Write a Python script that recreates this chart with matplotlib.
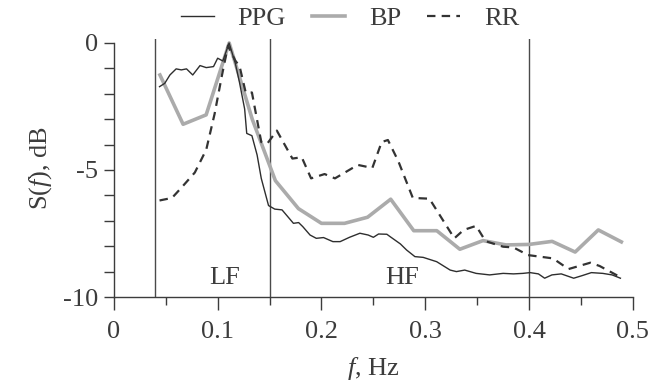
import matplotlib as mpl

mpl.use("Agg")
import matplotlib.pyplot as plt
from matplotlib.ticker import FixedLocator, MultipleLocator, FuncFormatter

mpl.rcParams.update(
    {
        "font.family": ["Liberation Serif", "DejaVu Serif"],
        "mathtext.fontset": "custom",
        "mathtext.it": "Liberation Serif:italic",
        "mathtext.rm": "Liberation Serif",
        "axes.unicode_minus": False,
        "text.color": "#3c3c3c",
        "axes.labelcolor": "#3c3c3c",
        "xtick.color": "#3c3c3c",
        "ytick.color": "#3c3c3c",
        "axes.edgecolor": "#3c3c3c",
    }
)

# power spectra, dB relative to peak
ppg_f = [0.044, 0.049, 0.054, 0.060, 0.065, 0.070, 0.076, 0.083, 0.089, 0.096,
         0.100, 0.105, 0.111, 0.117, 0.121, 0.126, 0.128, 0.133, 0.138, 0.142,
         0.149, 0.155, 0.162, 0.173, 0.178, 0.182, 0.189, 0.195, 0.202, 0.211,
         0.218, 0.227, 0.237, 0.245, 0.250, 0.255, 0.263, 0.266, 0.276, 0.282,
         0.290, 0.298, 0.311, 0.324, 0.330, 0.338, 0.349, 0.362, 0.375, 0.385,
         0.394, 0.401, 0.409, 0.415, 0.422, 0.431, 0.443, 0.451, 0.460, 0.471,
         0.480, 0.488]
ppg_db = [-1.72, -1.59, -1.26, -1.02, -1.06, -1.02, -1.26, -0.89, -0.97, -0.93,
          -0.60, -0.71, 0.0, -0.80, -1.55, -2.60, -3.56, -3.65, -4.41, -5.33,
          -6.40, -6.54, -6.57, -7.10, -7.07, -7.23, -7.56, -7.69, -7.66, -7.82,
          -7.82, -7.65, -7.49, -7.56, -7.65, -7.52, -7.53, -7.62, -7.91, -8.15,
          -8.41, -8.44, -8.61, -8.94, -9.00, -8.94, -9.07, -9.13, -9.07, -9.09,
          -9.07, -9.04, -9.09, -9.26, -9.13, -9.09, -9.26, -9.16, -9.04, -9.07,
          -9.13, -9.26]

bp_f = [0.0444, 0.0667, 0.0889, 0.1111, 0.1333, 0.1556, 0.1778, 0.2000, 0.2222,
        0.2444, 0.2667, 0.2889, 0.3111, 0.3333, 0.3556, 0.3778, 0.4000, 0.4222,
        0.4444, 0.4667, 0.4889]
bp_db = [-1.26, -3.20, -2.83, 0.0, -3.0, -5.42, -6.52, -7.10, -7.10,
         -6.86, -6.15, -7.39, -7.39, -8.12, -7.78, -7.95, -7.93, -7.81,
         -8.23, -7.36, -7.83]

rr_f = [0.044, 0.056, 0.065, 0.078, 0.089, 0.097, 0.104, 0.110, 0.117, 0.121,
        0.127, 0.133, 0.142, 0.148, 0.157, 0.172, 0.181, 0.190, 0.203, 0.213,
        0.235, 0.249, 0.258, 0.264, 0.274, 0.288, 0.304, 0.328, 0.337, 0.349,
        0.358, 0.375, 0.385, 0.399, 0.423, 0.438, 0.459, 0.468, 0.488]
rr_db = [-6.20, -6.10, -5.70, -5.10, -4.20, -2.80, -1.30, -0.10, -0.70, -0.90,
         -1.95, -1.95, -3.90, -3.95, -3.45, -4.55, -4.50, -5.33, -5.16, -5.33,
         -4.80, -4.92, -3.90, -3.82, -4.65, -6.10, -6.13, -7.69, -7.36, -7.20,
         -7.80, -8.02, -8.05, -8.35, -8.48, -8.90, -8.65, -8.78, -9.22]

band_edges = [0.04, 0.15, 0.4]
x_ticks = [0, 0.1, 0.2, 0.3, 0.4, 0.5]

fig = plt.figure(figsize=(6.62, 3.82), dpi=100)
ax = fig.add_axes([0.172, 0.2225, 0.784, 0.675])

for f0 in band_edges:
    ax.axvline(f0, color="#4a4a4a", lw=1.0, zorder=1)

ax.plot(ppg_f, ppg_db, color="#2e2e2e", lw=1.0, label="PPG", zorder=3)
ax.plot(bp_f, bp_db, color="#ababab", lw=2.6, label="BP", zorder=2)
ax.plot(rr_f, rr_db, color="#333333", lw=1.6, ls=(0, (3.8, 2.8)), label="RR", zorder=4)

ax.text(0.107, -9.25, "LF", ha="center", va="center", fontsize=19)
ax.text(0.278, -9.25, "HF", ha="center", va="center", fontsize=19)

ax.set_xlim(0, 0.5)
ax.set_ylim(-10, 0.15)
for side in ("top", "right"):
    ax.spines[side].set_visible(False)
ax.spines["left"].set_bounds(-10, 0)
ax.spines["left"].set_linewidth(1.0)
ax.spines["bottom"].set_linewidth(1.0)

ax.xaxis.set_major_locator(FixedLocator(x_ticks))
ax.xaxis.set_minor_locator(MultipleLocator(0.05))
ax.xaxis.set_major_formatter(FuncFormatter(lambda v, p: f"{v:g}"))
ax.yaxis.set_major_locator(FixedLocator([-10, -5, 0]))
ax.yaxis.set_minor_locator(MultipleLocator(1))
ax.tick_params(axis="x", which="major", length=9, width=1.0, labelsize=19, pad=8)
ax.tick_params(axis="x", which="minor", length=6, width=1.0)
ax.tick_params(axis="y", which="both", length=7.5, width=1.0, labelsize=19, pad=4)

ax.set_xlabel("$f$, Hz", fontsize=19, labelpad=9)
ax.set_ylabel("S($f$), dB", fontsize=19, labelpad=6)

ax.legend(loc="lower center", bbox_to_anchor=(0.455, 0.985), ncol=3, frameon=False,
          fontsize=19, handlelength=1.25, handletextpad=0.9, columnspacing=1.0,
          borderpad=0.0)

fig.savefig("out.png", dpi=100)
